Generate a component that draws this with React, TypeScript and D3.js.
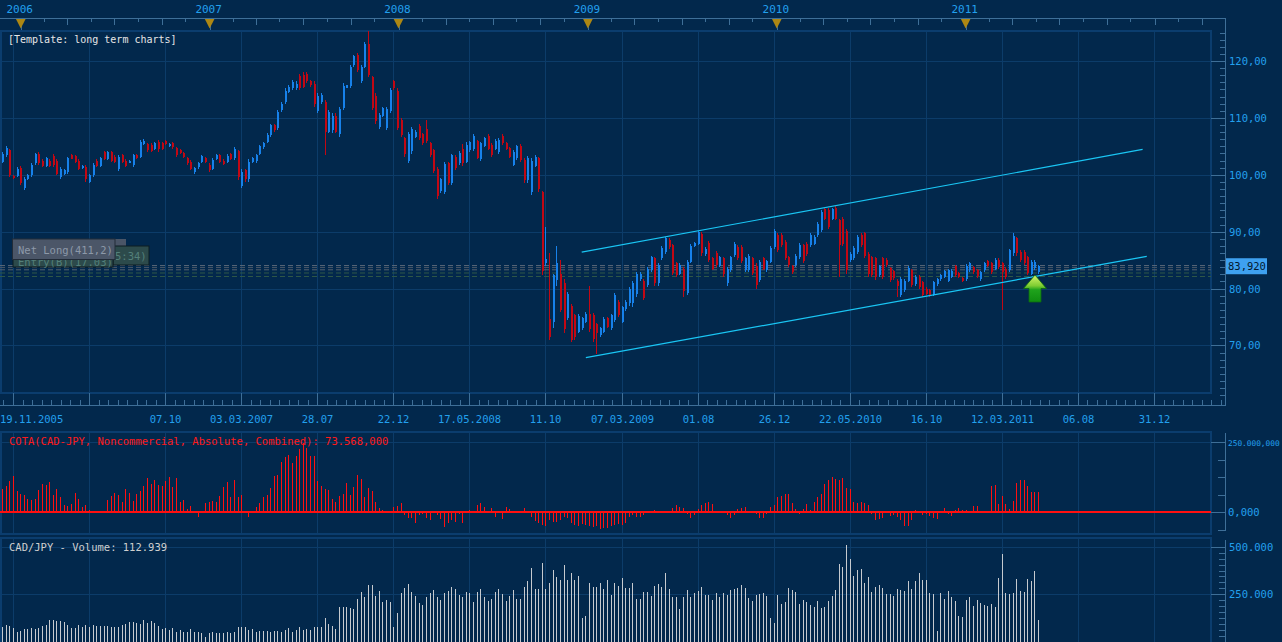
import React from 'react';
import * as d3 from 'd3';

// weekly CAD/JPY candles, first bar on this date, one bar per week
const firstWeek = '2005-11-26';

const opens = [
  102.3,103.5,104.3,99.8,99.8,101.2,97.6,99.2,99.9,102.0,
  103.7,102.5,101.6,102.5,103.3,102.4,99.6,100.1,100.5,103.4,
  103.3,102.4,101.2,101.4,98.8,99.9,102.4,101.6,104.0,102.8,
  104.0,103.2,101.0,103.4,102.5,102.1,101.7,103.5,103.2,105.4,
  105.4,105.3,104.5,105.8,105.5,106.0,105.0,105.6,104.7,104.4,
  103.8,103.0,102.3,100.4,101.3,102.2,103.0,101.8,101.1,102.8,
  103.4,102.5,102.2,103.6,102.9,104.1,98.0,100.8,99.2,102.2,
  102.4,103.7,104.8,105.8,107.0,108.8,108.2,111.3,112.8,114.5,
  115.2,115.2,117.3,117.6,117.8,116.5,116.0,111.2,112.8,112.8,
  107.6,107.8,110.4,107.2,111.8,115.3,115.6,119.3,121.0,116.5,
  119.0,123.0,117.2,113.8,108.4,110.4,108.3,111.2,116.4,114.8,
  109.6,106.4,102.5,104.2,106.6,108.6,107.2,108.0,105.6,104.3,
  101.0,97.1,97.0,102.0,98.6,103.1,102.0,104.6,102.3,104.3,
  104.6,105.9,102.8,105.1,106.8,105.3,104.6,104.0,106.9,105.6,
  104.7,101.8,102.9,105.1,102.6,99.0,97.0,101.6,102.9,97.0,
  84.4,74.6,74.2,81.5,82.6,81.0,74.8,77.0,75.3,72.4,
  73.0,74.2,75.5,75.4,73.8,71.8,72.4,74.8,73.0,74.5,
  77.6,74.2,76.4,77.4,77.5,79.0,81.6,81.4,80.6,83.2,
  85.3,81.0,85.3,86.4,88.5,87.6,84.4,82.6,83.5,79.2,
  84.7,87.5,87.9,89.6,86.0,88.0,85.4,86.3,84.0,85.3,
  81.0,83.2,85.9,87.3,87.3,83.2,83.3,85.3,84.0,81.5,
  85.3,83.2,84.7,87.3,89.4,89.4,88.2,85.6,84.0,84.1,
  85.5,87.6,87.9,87.6,87.9,89.4,90.3,94.0,93.8,92.3,
  94.2,92.0,92.3,90.1,85.0,85.3,86.4,89.4,89.7,86.1,
  85.5,85.3,82.3,85.3,85.1,83.6,83.1,81.3,78.8,79.7,
  81.4,83.2,80.8,82.0,81.1,80.0,79.7,78.9,80.8,81.6,
  82.1,81.4,82.1,83.9,82.7,81.9,81.7,83.2,83.7,83.3,
  81.7,83.2,84.9,84.4,83.5,85.0,84.4,83.5,83.3,86.3,
  88.8,86.5,86.4,85.5,82.6,83.6,82.9,
];

const highs = [
  104.0,105.0,104.6,99.9,101.4,101.6,99.6,100.2,102.1,103.9,
  104.0,102.7,103.2,102.7,103.6,102.7,101.4,101.1,103.2,103.6,
  103.5,102.7,101.7,101.7,100.2,102.0,102.7,103.2,104.2,104.2,
  104.2,103.5,103.5,103.6,102.7,102.6,103.7,103.7,106.1,106.2,
  105.6,105.6,105.8,106.1,105.8,106.1,105.5,105.8,104.9,104.6,
  104.0,103.2,102.6,101.4,102.3,103.5,103.2,102.0,102.9,103.6,
  103.6,102.7,103.6,103.9,104.9,104.3,101.1,101.1,102.7,103.2,
  103.7,105.2,105.8,107.3,109.0,109.0,111.4,112.8,115.2,115.8,
  116.7,116.4,117.8,118.1,118.1,116.7,116.4,114.3,114.3,113.1,
  111.4,110.8,110.8,112.0,116.1,115.8,119.3,121.1,121.4,119.3,
  123.4,125.2,117.4,114.3,110.8,112.0,112.0,115.2,116.7,115.2,
  109.9,106.7,107.6,108.4,107.9,109.0,107.4,109.6,105.8,104.6,
  101.3,99.5,102.3,102.3,103.7,103.4,104.2,105.4,105.7,106.0,
  107.1,106.1,105.8,106.7,107.1,105.5,106.2,106.4,107.1,105.8,
  104.9,104.3,105.2,105.4,102.9,103.3,102.9,103.4,103.2,97.2,
  90.8,86.3,82.6,87.4,85.1,81.6,79.4,77.3,75.6,75.5,
  75.0,75.9,80.4,75.7,74.0,73.3,75.0,75.0,75.6,79.2,
  77.9,77.0,77.9,80.3,81.4,82.9,82.9,81.7,83.8,85.8,
  85.6,84.5,87.4,89.1,88.8,87.9,84.7,84.4,83.8,85.0,
  87.8,88.2,90.2,89.9,87.3,88.3,85.6,86.6,85.8,85.6,
  83.8,85.8,88.2,87.6,87.6,85.6,86.1,85.6,84.4,85.0,
  85.6,85.1,87.4,90.5,89.7,89.7,88.5,85.8,84.2,86.1,
  88.0,87.9,88.2,89.7,89.4,91.7,93.8,94.2,94.1,94.2,
  94.5,92.3,92.6,90.4,86.4,87.4,89.4,89.7,90.0,86.4,
  85.8,85.6,84.2,85.6,85.3,83.8,83.3,81.6,82.0,81.7,
  83.9,83.5,82.3,82.3,81.4,80.2,79.9,81.4,81.9,82.6,
  83.2,83.5,83.4,84.1,82.9,82.1,84.3,84.7,83.9,83.5,
  83.1,84.7,85.1,84.7,85.3,85.3,84.7,83.8,87.0,89.7,
  89.1,86.7,86.7,85.8,85.0,85.0,84.1,
];

const lows = [
  102.0,103.2,99.6,99.3,99.6,98.2,97.3,99.0,99.6,101.7,
  101.7,101.4,101.4,101.4,101.4,99.9,99.3,99.9,100.2,102.7,
  102.0,100.8,101.1,98.8,98.5,99.6,101.4,101.4,102.6,102.6,
  102.3,102.0,100.7,102.0,101.4,102.0,101.4,102.7,102.9,105.2,
  104.0,104.0,104.3,104.0,104.3,105.2,104.9,104.6,103.2,103.6,
  102.9,101.7,100.8,100.2,101.1,102.0,102.0,100.5,100.8,102.6,
  102.0,101.7,102.0,102.6,102.6,99.0,97.6,98.8,98.8,102.0,
  102.0,103.5,104.6,105.5,106.7,107.6,107.9,111.1,112.5,114.3,
  114.9,114.9,114.9,115.2,116.1,115.5,112.0,110.8,112.5,103.5,
  107.3,107.3,107.3,106.7,111.4,115.2,115.2,119.0,118.1,116.1,
  118.7,117.2,111.4,109.0,108.1,110.2,107.9,110.8,114.9,107.9,
  106.7,103.2,102.0,103.7,106.4,106.1,105.2,105.5,103.2,100.3,
  95.8,96.8,96.7,98.2,98.2,100.8,101.7,101.5,102.0,104.0,
  104.2,102.7,102.5,104.9,104.3,103.2,104.4,103.7,105.2,104.3,
  102.9,101.5,102.6,102.3,98.6,98.5,96.4,101.3,97.0,82.3,
  84.0,70.9,73.0,80.4,75.9,72.1,74.4,70.6,70.9,72.1,
  72.7,73.9,72.4,70.6,68.5,71.5,72.1,73.0,72.7,74.1,
  75.0,73.9,76.1,77.0,76.7,78.5,81.4,77.9,80.3,82.9,
  80.5,80.5,85.0,86.1,87.0,82.3,82.0,82.3,78.5,78.8,
  84.4,87.3,87.6,85.8,85.8,84.7,83.2,83.8,83.8,82.0,
  80.5,82.9,85.6,85.0,84.4,82.9,82.9,82.3,80.0,81.1,
  83.2,82.9,84.4,87.0,86.4,87.3,85.0,83.8,82.6,83.8,
  85.2,84.4,85.8,87.3,87.6,89.1,90.0,92.0,90.5,92.0,
  92.0,82.0,87.4,82.6,84.7,85.0,86.1,87.3,85.3,82.0,
  82.0,81.5,82.0,81.7,83.8,81.1,81.5,78.5,78.5,79.4,
  81.1,80.2,80.5,79.9,78.5,78.8,78.5,78.6,80.5,81.4,
  81.9,81.1,81.9,82.1,81.9,81.1,81.4,82.9,82.6,81.9,
  81.4,82.9,83.8,82.6,83.2,83.5,76.3,81.7,82.9,85.8,
  85.8,84.7,84.1,82.3,82.3,83.3,82.6,
];

const closes = [
  103.7,104.7,100.0,99.4,101.1,98.6,99.3,100.0,101.8,103.6,
  102.0,101.6,102.9,101.6,101.7,100.2,101.1,100.9,102.9,102.8,
  102.2,101.0,101.6,99.2,100.0,101.7,101.6,103.0,102.8,104.0,
  102.5,102.2,103.2,102.3,101.6,102.5,103.4,102.9,105.8,106.0,
  104.3,104.2,105.5,104.6,104.6,105.4,105.4,104.8,103.5,103.8,
  103.1,102.0,101.1,101.2,102.1,103.3,102.2,100.8,102.6,103.4,
  102.3,101.9,103.3,102.8,104.6,99.6,100.5,99.2,102.2,103.0,
  103.5,105.0,105.6,107.0,108.7,107.8,111.1,112.5,114.8,115.5,
  116.3,116.0,115.3,115.5,116.5,115.8,112.4,113.9,114.0,107.6,
  111.0,110.4,107.6,111.5,115.6,115.7,118.9,120.8,118.4,119.0,
  123.0,117.5,111.8,109.5,110.5,111.8,111.5,114.9,115.2,108.3,
  107.0,103.6,107.2,108.0,107.6,106.5,105.6,105.9,103.5,100.6,
  96.2,99.2,101.9,98.5,103.4,101.2,103.9,102.0,105.3,105.7,
  106.8,103.0,105.5,106.4,104.6,103.5,106.0,106.1,105.5,104.5,
  103.2,104.0,105.0,102.6,99.0,102.9,102.5,103.1,97.5,83.0,
  85.2,71.5,82.4,84.5,76.2,72.8,79.0,71.0,71.5,75.2,
  74.8,75.6,72.8,71.2,72.2,73.0,74.7,73.3,75.3,78.9,
  75.3,76.7,77.6,79.9,81.0,82.5,82.6,78.3,83.5,85.5,
  81.0,84.2,87.1,88.8,87.3,82.8,82.4,84.1,79.5,84.7,
  87.5,88.0,89.9,86.2,87.0,85.0,83.5,84.1,85.5,82.5,
  83.5,85.5,87.9,85.3,84.8,85.3,85.8,82.7,80.6,84.7,
  83.5,84.8,87.1,90.2,86.8,87.6,85.4,84.1,82.9,85.8,
  87.7,84.8,86.1,89.4,89.1,91.4,93.5,92.3,90.9,94.0,
  92.3,87.6,87.8,83.3,86.1,87.1,89.1,87.6,85.7,82.5,
  82.4,82.0,84.0,82.1,84.1,81.5,81.8,80.5,81.7,81.4,
  83.6,80.6,82.0,80.3,78.9,79.1,78.8,81.1,81.6,82.4,
  83.0,83.2,83.1,82.4,82.1,81.3,84.0,84.4,82.9,82.2,
  82.9,84.4,84.0,82.9,85.0,83.8,82.9,82.0,86.7,89.3,
  86.2,85.0,84.5,82.8,84.7,84.6,83.92,
];

// COT noncommercial net position (thousands), same weeks
const cotNet = [
  83,94,113,130,76,65,62,46,44,49,
  80,101,98,110,62,82,56,26,23,30,
  68,46,18,25,8,1,0,5,3,44,
  58,68,62,38,82,70,42,65,77,94,
  121,101,115,98,94,113,125,89,121,38,
  44,11,23,6,-18,6,35,38,42,38,
  58,89,108,56,115,56,61,-4,-15,2,
  18,35,56,62,86,130,133,181,199,205,
  177,201,225,246,229,201,201,113,94,82,
  80,46,38,58,64,104,62,92,133,118,
  56,86,77,38,14,8,-4,2,18,23,
  32,-10,-21,-21,-37,-10,-6,-21,-27,
  -4,-10,-25,-51,-39,-27,-33,-6,-37,-4,
  8,0,26,32,18,0,14,-15,0,-25,
  18,11,5,-1,5,14,-1,-15,-30,-37,
  -45,-49,-27,-33,-33,-27,-18,-21,-37,-45,
  -49,-43,-45,-49,-54,-49,-58,-57,-57,-49,
  -45,-42,-45,-39,-18,-10,-15,-15,-10,0,
  3,8,5,0,5,0,17,26,20,17,
  -7,-21,-10,11,25,35,38,30,2,0,
  0,-10,-21,-10,11,15,20,5,0,-7,
  -21,-21,-6,18,26,56,60,65,65,32,
  13,-7,12,30,8,38,54,65,101,115,
  125,118,115,123,87,82,37,35,
  37,33,25,-5,-29,-23,-20,-1,-13,-8,
  -17,-26,-48,-48,-26,7,0,-8,-5,-13,
  -19,-23,0,14,-5,-13,7,17,10,10,
  0,21,21,0,0,0,93,96,29,57,
  29,11,39,105,114,114,93,71,71,73.568,
];

// weekly volume (thousands)
const volume = [
  80,89,84,72,51,59,66,66,72,66,
  72,84,89,115,115,112,112,107,89,75,
  75,89,80,89,80,89,84,84,84,84,
  80,80,80,89,94,105,107,101,94,115,
  101,110,101,84,66,72,63,72,54,63,
  54,51,66,54,54,45,28,45,54,45,
  45,45,54,45,54,77,77,77,63,66,
  54,59,59,59,54,59,59,54,63,72,
  54,63,77,63,66,63,77,77,77,124,
  94,84,66,185,185,182,176,171,224,264,
  238,299,299,241,269,211,220,208,80,154,
  259,281,304,264,241,203,194,234,259,
  273,234,220,259,267,287,280,246,238,262,
  259,210,264,278,238,215,225,262,278,250,
  215,241,273,225,225,290,320,388,278,278,
  414,278,311,377,341,325,404,325,362,325,
  346,124,136,311,288,290,311,278,325,246,
  307,293,334,281,281,307,225,225,262,262,
  241,293,304,290,362,280,238,238,173,236,
  273,238,255,267,288,245,245,220,259,238,
  259,245,273,278,281,299,281,231,215,246,
  253,259,241,128,101,246,199,211,281,273,
  264,199,220,211,194,185,215,176,185,215,
  241,273,409,395,508,435,346,377,
  383,307,341,260,288,299,281,252,252,241,
  278,273,266,320,278,320,360,325,325,257,
  252,58,257,225,267,236,215,136,131,220,
  236,189,220,204,194,189,199,183,335,461,
  257,252,257,330,267,262,330,320,372,112.939,
];

const dateTickDates = [
  '2005-12-17','2006-05-13','2006-10-07','2007-03-03','2007-07-28','2007-12-22',
  '2008-05-17','2008-10-11','2009-03-07','2009-08-01','2009-12-26','2010-05-22',
  '2010-10-16','2011-03-12','2011-08-06','2011-12-31',
];
const dateTickLabels = [
  '', '', '07.10', '03.03.2007', '28.07', '22.12', '17.05.2008', '11.10',
  '07.03.2009', '01.08', '26.12', '22.05.2010', '16.10', '12.03.2011', '06.08', '31.12',
];
const firstDateLabel = '19.11.2005';
const yearLabels = ['2006', '2007', '2008', '2009', '2010', '2011'];

const priceTicks = [70, 80, 90, 100, 110, 120];
const priceTickLabels = ['70,00', '80,00', '90,00', '100,00', '110,00', '120,00'];
const cotTicks = [0, 250];
const cotTickLabels = ['0,000', '250.000,000'];
const volTicks = [250, 500];
const volTickLabels = ['250.000', '500.000'];

const lastPrice = 83.92;
const lastPriceLabel = '83,920';
const levelPrices = [84.03, 83.68, 83.29, 82.73, 82.11];
const levelColors = ['#5d6a7a', '#4a5869', '#56626f', '#2f5848', '#2f5848'];

const channelUpper: [string, number][] = [['2008-12-20', 86.4], ['2011-12-09', 104.45]];
const channelLower: [string, number][] = [['2008-12-28', 67.85], ['2011-12-17', 85.65]];

const BG = '#02284c';
const GRID = '#0c3c69';
const FRAME = '#0b3d6e';
const AXIS = '#3e6f98';
const BLUE_TXT = '#22a0ee';
const UP = '#1781ea';
const DOWN = '#c20814';
const FONT = 'DejaVu Sans Mono, monospace';

const W = 1282;
const H = 642;
const PR = 1211;
const AX = 1225.5;
const PT = 31;
const PB = 393;
const COT_T = 432;
const COT_B = 534;
const VOL_T = 538;
const VOL_B = 642;

export default function App() {
  const parse = d3.timeParse('%Y-%m-%d');
  const start = parse(firstWeek) as Date;
  const dates = closes.map((_, i) => d3.timeDay.offset(start, 7 * i));
  const tickDates = dateTickDates.map((d) => parse(d) as Date);

  const x = d3.scaleTime().domain([tickDates[0], tickDates[15]]).range([13, 1154]);
  const yP = d3.scaleLinear().domain([70, 120]).range([345.4, 61]);
  const yCot = d3.scaleLinear().domain([0, 250]).range([512.3, 442.3]);
  const yVol = d3.scaleLinear().domain([0, 500]).range([642, 546.7]);

  const gridX = tickDates.map((d) => Math.round(x(d)) + 0.5);

  // top time ruler ticks (quarters and mid-quarters)
  const quarters = d3.timeMonth.every(3)!.range(parse('2005-10-01') as Date, parse('2012-04-02') as Date);
  const midQuarters = quarters.map((q) => d3.timeDay.offset(q, 45));
  const years = yearLabels.map((y) => parse(`${y}-01-01`) as Date);

  // bottom ruler minor ticks: 8 per grid interval
  const step = (x(tickDates[1]) - x(tickDates[0])) / 8;
  const bottomMinor = d3.range(-8, 16 * 8 + 1).map((k) => x(tickDates[0]) + k * step).filter((v) => v >= 0 && v <= AX);

  const priceMinor = d3.range(60, 126, 1.25).map((v) => yP(v)).filter((v) => v > PT && v < PB + 6);
  const cotMinor = d3.range(-62.5, 251, 62.5).map((v) => yCot(v));
  const volMinor = d3.range(0, 520, 31.25).map((v) => yVol(v)).filter((v) => v > VOL_T);

  const chanLine = (pts: [string, number][]) =>
    d3.line<[string, number]>()
      .x((p) => x(parse(p[0]) as Date))
      .y((p) => yP(p[1]))(pts) as string;

  const lastX = x(dates[dates.length - 1]);
  const arrowX = Math.round(lastX) - 3;
  const arrowY = 275;

  const vGrid = (top: number, bottom: number) =>
    gridX.map((gx, i) => <line key={i} x1={gx} x2={gx} y1={top} y2={bottom} stroke={GRID} strokeWidth={1} />);

  return (
    <svg width={W} height={H} style={{ position: 'absolute', left: 0, top: 0, display: 'block' }} fontFamily={FONT}>
      <defs>
        <linearGradient id="arrowFill" x1="0" y1="0" x2="0" y2="1">
          <stop offset="0%" stopColor="#d6f56a" />
          <stop offset="40%" stopColor="#7fcd32" />
          <stop offset="55%" stopColor="#1fa31c" />
          <stop offset="100%" stopColor="#0f8c10" />
        </linearGradient>
        <clipPath id="plotClip">
          <rect x={0} y={PT} width={PR} height={PB - PT} />
        </clipPath>
      </defs>
      <rect x={0} y={0} width={W} height={H} fill={BG} />

      {/* top time ruler */}
      <g shapeRendering="crispEdges">
        <line x1={0} x2={AX} y1={18.5} y2={18.5} stroke={AXIS} />
        {quarters.map((q, i) => {
          const qx = Math.round(x(q)) + 0.5;
          return qx > 0 && qx < AX ? <line key={'q' + i} x1={qx} x2={qx} y1={18.5} y2={24.5} stroke={AXIS} /> : null;
        })}
        {midQuarters.map((q, i) => {
          const qx = Math.round(x(q)) + 0.5;
          return qx > 0 && qx < AX ? <line key={'m' + i} x1={qx} x2={qx} y1={18.5} y2={22} stroke={AXIS} /> : null;
        })}
      </g>
      {years.map((d, i) => {
        const yx = x(d);
        return (
          <g key={'y' + i}>
            <text x={yx - 1} y={13} fontSize={11} fill={BLUE_TXT} textAnchor="middle">{yearLabels[i]}</text>
            <line x1={Math.round(yx) + 0.5} x2={Math.round(yx) + 0.5} y1={18.5} y2={31} stroke={AXIS} />
            <path d={`M${yx - 4.8},19 L${yx + 4.8},19 L${yx},28.5 Z`} fill="#ad8713" />
          </g>
        );
      })}

      {/* main price panel */}
      <g shapeRendering="crispEdges">
        {vGrid(PT, PB)}
        {priceTicks.map((p, i) => (
          <line key={'pg' + i} x1={0} x2={PR} y1={Math.round(yP(p)) + 0.5} y2={Math.round(yP(p)) + 0.5} stroke={GRID} />
        ))}
        <rect x={1} y={PT} width={PR - 1} height={PB - PT} fill="none" stroke={FRAME} strokeWidth={2.5} />
      </g>

      <text x={8} y={43} fontSize={10} fill="#e6e6e6">[Template: long term charts]</text>

      {/* level lines */}
      <g clipPath="url(#plotClip)">
        {levelPrices.map((p, i) => (
          <line key={'lv' + i} x1={0} x2={PR} y1={yP(p)} y2={yP(p)} stroke={levelColors[i]} strokeWidth={1} strokeDasharray="5,3" />
        ))}
      </g>

      {/* candles */}
      <g shapeRendering="crispEdges" clipPath="url(#plotClip)">
        {dates.map((d, i) => {
          const cx = Math.round(x(d));
          const o = opens[i];
          const c = closes[i];
          const hi = Math.max(highs[i], o, c);
          const lo = Math.min(lows[i], o, c);
          const col = c >= o ? UP : DOWN;
          const yT = yP(Math.max(o, c));
          const yB = yP(Math.min(o, c));
          return (
            <g key={'c' + i}>
              <rect x={cx} y={yP(hi)} width={1} height={Math.max(1, yP(lo) - yP(hi))} fill={col} />
              <rect x={cx - 0.5} y={yT} width={2} height={Math.max(1, yB - yT)} fill={col} />
            </g>
          );
        })}
      </g>

      {/* trend channel */}
      <path d={chanLine(channelUpper)} stroke="#1ac6f4" strokeWidth={1.2} fill="none" />
      <path d={chanLine(channelLower)} stroke="#1ac6f4" strokeWidth={1.2} fill="none" />

      {/* signal arrow */}
      <path
        d={`M${arrowX},${arrowY} L${arrowX + 11.5},${arrowY + 13.5} L${arrowX + 6},${arrowY + 13.5} L${arrowX + 6},${arrowY + 27} L${arrowX - 6},${arrowY + 27} L${arrowX - 6},${arrowY + 13.5} L${arrowX - 11.5},${arrowY + 13.5} Z`}
        fill="url(#arrowFill)"
        stroke="#0d6a10"
        strokeWidth={0.8}
      />

      {/* position labels */}
      <rect x={13} y={239} width={113} height={20} fill="#4a5567" />
      <rect x={113} y={246} width={36} height={19} fill="#2c4a4b" stroke="#0d1c22" strokeWidth={1} />
      <text x={115} y={260} fontSize={10.5} fill="#54807a">5:34)</text>
      <rect x={13} y={255} width={100} height={12} fill="#2c4a4b" stroke="#0d1c22" strokeWidth={1} />
      <text x={18} y={266} fontSize={10.5} fill="#54807a">Entry(B)(17.03)</text>
      <rect x={12.5} y={239} width={102.5} height={20.5} fill="#4b5668" stroke="#222c38" strokeWidth={1} />
      <text x={18} y={254} fontSize={10.5} fill="#8d99a9">Net Long(411,2)</text>

      {/* right price axis */}
      <g shapeRendering="crispEdges">
        <line x1={AX} x2={AX} y1={18.5} y2={405.5} stroke={AXIS} />
        {priceMinor.map((py, i) => (
          <line key={'pm' + i} x1={AX - 5.5} x2={AX} y1={Math.round(py) + 0.5} y2={Math.round(py) + 0.5} stroke={AXIS} />
        ))}
        {priceTicks.map((p, i) => (
          <line key={'pt' + i} x1={PR} x2={AX} y1={Math.round(yP(p)) + 0.5} y2={Math.round(yP(p)) + 0.5} stroke={AXIS} />
        ))}
      </g>
      {priceTicks.map((p, i) => (
        <text key={'pl' + i} x={1229} y={yP(p) + 4} fontSize={10.5} fill={BLUE_TXT}>{priceTickLabels[i]}</text>
      ))}
      <rect x={1226} y={yP(lastPrice) - 8} width={41} height={16} fill="#3ea1f0" />
      <text x={1228} y={yP(lastPrice) + 4} fontSize={10.5} fill="#03182d">{lastPriceLabel}</text>

      {/* bottom date ruler */}
      <g shapeRendering="crispEdges">
        <line x1={0} x2={AX} y1={405.5} y2={405.5} stroke={AXIS} />
        {bottomMinor.map((bx, i) => (
          <line key={'bm' + i} x1={Math.round(bx) + 0.5} x2={Math.round(bx) + 0.5} y1={400} y2={405.5} stroke={AXIS} />
        ))}
        {gridX.map((gx, i) => (
          <line key={'bg' + i} x1={gx} x2={gx} y1={PB} y2={405.5} stroke={AXIS} />
        ))}
      </g>
      <text x={0} y={423} fontSize={10.5} fill={BLUE_TXT}>{firstDateLabel}</text>
      {dateTickLabels.map((l, i) => (l ? (
        <text key={'dl' + i} x={gridX[i]} y={423} fontSize={10.5} fill={BLUE_TXT} textAnchor="middle">{l}</text>
      ) : null))}

      {/* COT panel */}
      <g shapeRendering="crispEdges">
        {vGrid(COT_T, COT_B)}
        <line x1={0} x2={PR} y1={Math.round(yCot(250)) + 0.5} y2={Math.round(yCot(250)) + 0.5} stroke={GRID} />
        <rect x={1} y={COT_T} width={PR - 1} height={COT_B - COT_T} fill="none" stroke={FRAME} strokeWidth={2.5} />
        {cotNet.map((v, i) => {
          const bx = Math.round(x(dates[i]));
          const y0 = yCot(0);
          const y1 = yCot(v);
          return <rect key={'cot' + i} x={bx} y={Math.min(y0, y1)} width={1} height={Math.max(1, Math.abs(y1 - y0))} fill="#ff1010" />;
        })}
        <rect x={0} y={yCot(0) - 1} width={PR} height={2} fill="#ff1010" />
        <line x1={AX} x2={AX} y1={COT_T + 1} y2={COT_B - 3} stroke={AXIS} />
        {cotMinor.map((cy, i) => (
          <line key={'cm' + i} x1={AX - 8} x2={AX} y1={Math.round(cy) + 0.5} y2={Math.round(cy) + 0.5} stroke={AXIS} />
        ))}
        {cotTicks.map((t, i) => (
          <line key={'ct' + i} x1={PR} x2={AX} y1={Math.round(yCot(t)) + 0.5} y2={Math.round(yCot(t)) + 0.5} stroke={AXIS} />
        ))}
      </g>
      <text x={9} y={445} fontSize={10.5} fill="#ff1a1a">COTA(CAD-JPY, Noncommercial, Absolute, Combined): 73.568,000</text>
      {cotTicks.map((t, i) => (
        <text
          key={'cl' + i}
          x={1228}
          y={yCot(t) + 4}
          fontSize={cotTickLabels[i].length > 8 ? 7.8 : 10.5}
          fill={BLUE_TXT}
        >
          {cotTickLabels[i]}
        </text>
      ))}

      {/* volume panel */}
      <g shapeRendering="crispEdges">
        {vGrid(VOL_T, VOL_B)}
        {volTicks.map((t, i) => (
          <line key={'vg' + i} x1={0} x2={PR} y1={Math.round(yVol(t)) + 0.5} y2={Math.round(yVol(t)) + 0.5} stroke={GRID} />
        ))}
        <rect x={1} y={VOL_T} width={PR - 1} height={VOL_B - VOL_T + 4} fill="none" stroke={FRAME} strokeWidth={2.5} />
        {volume.map((v, i) => {
          const bx = Math.round(x(dates[i]));
          return <rect key={'v' + i} x={bx} y={yVol(v)} width={1} height={yVol(0) - yVol(v)} fill="#c6cacf" />;
        })}
        <line x1={AX} x2={AX} y1={VOL_T + 2} y2={VOL_B} stroke={AXIS} />
        {volMinor.map((vy, i) => (
          <line key={'vm' + i} x1={AX - 7} x2={AX} y1={Math.round(vy) + 0.5} y2={Math.round(vy) + 0.5} stroke={AXIS} />
        ))}
        {volTicks.map((t, i) => (
          <line key={'vt' + i} x1={PR} x2={AX} y1={Math.round(yVol(t)) + 0.5} y2={Math.round(yVol(t)) + 0.5} stroke={AXIS} />
        ))}
      </g>
      <text x={9} y={551} fontSize={10.5} fill="#cfcfcf">CAD/JPY - Volume: 112.939</text>
      {volTicks.map((t, i) => (
        <text key={'vl' + i} x={1229} y={yVol(t) + 4} fontSize={10.5} fill={BLUE_TXT}>{volTickLabels[i]}</text>
      ))}
    </svg>
  );
}
